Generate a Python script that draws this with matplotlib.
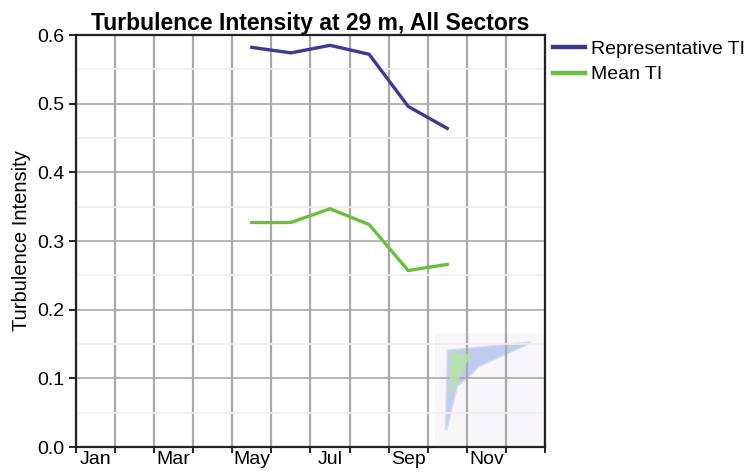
import matplotlib
matplotlib.use('Agg')
import matplotlib.pyplot as plt
import numpy as np
from matplotlib.patches import Polygon, Rectangle

plt.rcParams['font.family'] = ['Liberation Sans', 'DejaVu Sans']

#################################################
# Data.
month_labels = ['Jan', 'Feb', 'Mar', 'Apr', 'May', 'Jun',
                'Jul', 'Aug', 'Sep', 'Oct', 'Nov', 'Dec']
data_months = ['May', 'Jun', 'Jul', 'Aug', 'Sep', 'Oct']
rep_ti = [0.582, 0.574, 0.585, 0.572, 0.496, 0.464]
mean_ti = [0.327, 0.327, 0.347, 0.324, 0.257, 0.266]

col_rep = '#3c3a92'
col_mean = '#6cbf3e'

#################################################
# Display.
fig = plt.figure(figsize=(7.56, 4.76), dpi=100)
ax = fig.add_axes([0.1005, 0.0609, 0.6204, 0.8655])

# month centres
x_data = [month_labels.index(m) + 0.5 for m in data_months]

# faint logo block in lower right
ax.add_patch(Rectangle((9.19, 0.0), 2.81, 0.166, facecolor='#f8f6fb',
                       edgecolor='none', zorder=0))
kite = [(11.62, 0.152), (9.52, 0.14), (9.47, 0.025), (9.75, 0.09),
        (10.0, 0.1), (10.3, 0.118)]
ax.add_patch(Polygon(kite, closed=True, facecolor='#a9bbea',
                     edgecolor='#c8d0e8', lw=2, alpha=0.7, zorder=0.5))
wing = [(9.55, 0.138), (10.1, 0.135), (9.8, 0.1), (9.55, 0.07)]
ax.add_patch(Polygon(wing, closed=True, facecolor='#b9e4a6',
                     edgecolor='none', alpha=0.8, zorder=0.6))

l1, = ax.plot(x_data, rep_ti, color=col_rep, lw=2.4, zorder=3,
              label='Representative TI')
l2, = ax.plot(x_data, mean_ti, color=col_mean, lw=2.4, zorder=3,
              label='Mean TI')

ax.set_xlim(0, 12)
ax.set_ylim(0, 0.6)

ax.set_xticks(np.arange(0, 13), minor=False)
ax.set_xticklabels([])
ax.set_xticks(np.arange(0.5, 12, 2), minor=True)
ax.set_xticklabels(month_labels[::2], minor=True)
ax.tick_params(axis='x', which='minor', length=0, labelsize=14, pad=3)
ax.tick_params(axis='x', which='major', length=4, width=1.2,
               direction='out')

ax.set_yticks(np.arange(0, 0.61, 0.1))
ax.set_yticklabels(['{:.1f}'.format(v) for v in np.arange(0, 0.61, 0.1)])
ax.set_yticks(np.arange(0.05, 0.6, 0.1), minor=True)
ax.tick_params(axis='y', which='major', length=5, width=1.2,
               direction='out', labelsize=14, pad=3)
ax.tick_params(axis='y', which='minor', length=0)

ax.grid(axis='x', which='major', color='#a9a9a9', lw=1.6, zorder=1)
ax.grid(axis='y', which='major', color='#a9a9a9', lw=1.2, zorder=1)
ax.grid(axis='y', which='minor', color='#eeeeee', lw=1.2, zorder=1)
ax.set_axisbelow(True)

for s in ax.spines.values():
    s.set_color('#222222')
    s.set_linewidth(1.6)

ax.set_ylabel('Turbulence Intensity', fontsize=14.5, labelpad=5)
ax.set_title('Turbulence Intensity at 29 m, All Sectors', fontsize=16.5,
             fontweight='bold', pad=2)

leg = fig.legend(handles=[l1, l2], loc='upper left',
                 bbox_to_anchor=(0.7315, 0.915), frameon=False, fontsize=14,
                 handlelength=1.65, handletextpad=0.3, labelspacing=0.4,
                 borderpad=0, borderaxespad=0)
for h in leg.get_lines():
    h.set_linewidth(3.2)

fig.savefig('out.png', dpi=100)
